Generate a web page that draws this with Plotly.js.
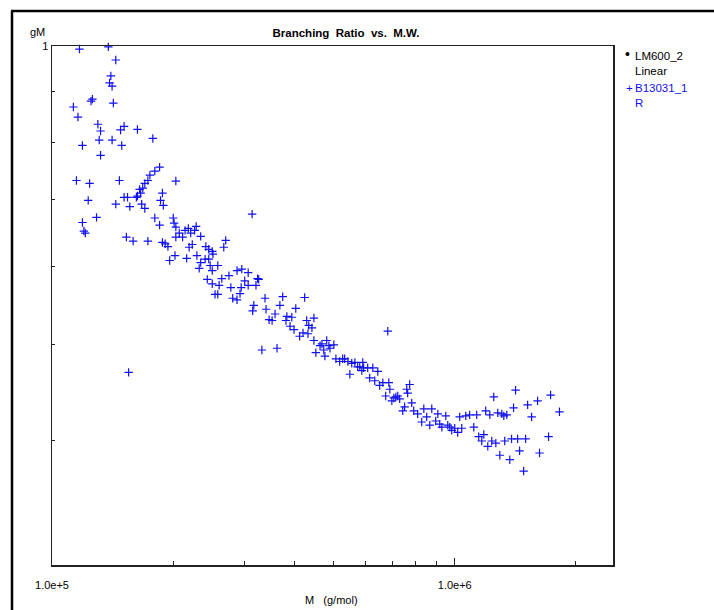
<!DOCTYPE html>
<html><head><meta charset="utf-8">
<script src="https://cdn.plot.ly/plotly-3.0.1.min.js"></script>
<style>html,body{margin:0;padding:0;background:#fff;}#chart{width:714px;height:610px;}</style>
</head><body><div id="chart"></div>
<script>
// Molar mass (g/mol) and branching ratio gM
const M = [
113000,115000,116000,117000,119000,119000,120000,121000,123000,124000,
125000,126000,129000,130000,131000,132000,132000,138000,139000,140000,
141000,141000,142000,144000,144000,147000,148000,149000,151000,151000,
153000,154000,155000,156000,159000,162000,163000,163000,165000,166000,
167000,168000,170000,170000,173000,173000,175000,178000,180000,180000,
185000,185000,186000,188000,188000,189000,191000,194000,196000,200000,
201000,202000,203000,203000,203000,207000,211000,214000,216000,218000,
219000,221000,223000,226000,228000,229000,232000,234000,234000,240000,
241000,243000,245000,245000,247000,250000,250000,250000,251000,254000,
258000,258000,260000,264000,267000,270000,275000,278000,281000,288000,
288000,293000,295000,296000,301000,307000,307000,314000,315000,317000,
321000,324000,326000,332000,338000,340000,346000,352000,358000,362000,
368000,374000,381000,383000,390000,394000,399000,403000,412000,420000,
424000,429000,432000,434000,442000,447000,447000,452000,463000,468000,
473000,476000,481000,487000,490000,501000,507000,518000,527000,533000,
543000,549000,555000,565000,574000,581000,588000,591000,594000,608000,
615000,626000,633000,644000,651000,663000,674000,682000,686000,690000,
698000,706000,714000,722000,730000,743000,751000,760000,764000,773000,
782000,791000,809000,828000,838000,852000,867000,877000,897000,908000,
918000,929000,950000,961000,972000,983000,1000000,1017000,1029000,1041000,
1065000,1089000,1115000,1134000,1147000,1167000,1181000,1194000,1208000,1222000,
1236000,1250000,1265000,1279000,1294000,1309000,1324000,1331000,1347000,1370000,
1384000,1400000,1416000,1433000,1449000,1483000,1500000,1517000,1552000,1606000,
1624000,1710000,1730000,1820000];
const gM = [
.868,.732,.848,.993,.794,.664,.651,.648,.699,.727,
.880,.884,.672,.834,.804,.776,.821,.998,.918,.933,
.911,.804,.876,.968,.693,.732,.823,.794,.830,.704,
.642,.704,.469,.689,.636,.704,.706,.824,.717,.711,
.693,.719,.727,.686,.732,.636,.741,.807,.748,.671,
.755,.660,.699,.711,.634,.691,.632,.628,.608,.671,
.663,.615,.731,.657,.642,.648,.642,.652,.611,.655,
.627,.648,.631,.652,.658,.615,.597,.643,.605,.610,
.628,.582,.624,.610,.601,.621,.594,.576,.617,.562,
.601,.562,.574,.583,.627,.637,.587,.571,.557,.594,
.555,.563,.571,.596,.580,.591,.574,.677,.541,.548,
.574,.583,.582,.494,.557,.543,.530,.529,.537,.496,
.548,.559,.529,.534,.522,.533,.518,.544,.510,.514,
.558,.529,.513,.523,.520,.532,.505,.491,.499,.501,
.494,.487,.505,.499,.496,.500,.484,.481,.484,.484,
.481,.467,.479,.480,.475,.475,.471,.480,.474,.474,
.463,.474,.460,.470,.455,.458,.444,.516,.458,.451,
.439,.442,.443,.444,.441,.429,.433,.451,.447,.456,
.437,.429,.426,.418,.431,.423,.415,.431,.419,.426,
.416,.413,.424,.415,.413,.410,.412,.408,.423,.412,
.424,.425,.413,.425,.404,.400,.406,.429,.395,.425,
.400,.443,.398,.427,.387,.426,.424,.400,.425,.383,
.402,.432,.450,.402,.391,.373,.402,.435,.423,.439,
.389,.404,.445,.428];
const xMajor = [1e5, 1e6];
const xMajorText = ['1.0e+5', '1.0e+6'];
const xMinor = [2e5,3e5,4e5,5e5,6e5,7e5,8e5,9e5,2e6];
const yMajor = [1];
const yMajorText = ['1'];
const yMinor = [0.4,0.5,0.6,0.7,0.8,0.9];
const seriesNames = ['LM600_2', 'B13031_1'];
const seriesSub = ['Linear', 'R'];

const F = '"Liberation Sans", Arial, sans-serif';
const blue = '#1010f0';
const L = 52, R = 613, T = 46, B = 565;
const pw = R - L, ph = B - T;
const px = v => (v - L) / pw;
const py = v => (B - v) / ph;

const data = [{
  type: 'scatter', mode: 'markers', x: M, y: gM, name: seriesNames[1],
  showlegend: false, cliponaxis: false,
  marker: {symbol: 'cross-thin-open', size: 6, color: blue, line: {color: blue, width: 1.2}}
}];

const layout = {
  width: 714, height: 610,
  margin: {l: L, r: 714 - R, t: T, b: 610 - B},
  paper_bgcolor: '#fff', plot_bgcolor: '#fff',
  showlegend: false,
  font: {family: F, size: 11, color: '#000'},
  title: {text: '<b>Branching\u00a0\u00a0Ratio\u00a0\u00a0vs.\u00a0\u00a0M.W.</b>', font: {family: F, size: 11.5, color: '#000'},
    xref: 'paper', x: px(346), xanchor: 'center', yref: 'container', y: 1 - 33/610, yanchor: 'middle'},
  xaxis: {
    type: 'log', range: [5, 6.393], showgrid: false, zeroline: false,
    showline: true, linecolor: '#222', linewidth: 1.5, mirror: true,
    tickmode: 'array', tickvals: xMajor, ticktext: xMajorText,
    ticks: 'inside', ticklen: 7, tickwidth: 1, tickcolor: '#222',
    tickfont: {family: F, size: 11, color: '#000'}, ticklabelstandoff: 9,
    minor: {tickmode: 'array', tickvals: xMinor, ticks: 'inside', ticklen: 4, tickwidth: 1, tickcolor: '#222', showgrid: false}
  },
  yaxis: {
    type: 'log', range: [Math.log10(0.3), 0], showgrid: false, zeroline: false,
    showline: true, linecolor: '#222', linewidth: 1.5, mirror: true,
    tickmode: 'array', tickvals: yMajor, ticktext: yMajorText,
    ticks: 'inside', ticklen: 3, tickwidth: 1, tickcolor: '#222',
    tickfont: {family: F, size: 11, color: '#000'},
    minor: {tickmode: 'array', tickvals: yMinor, ticks: 'inside', ticklen: 3, tickwidth: 1, tickcolor: '#222', showgrid: false}
  },
  annotations: [
    {text: 'gM', xref: 'paper', yref: 'paper', x: px(47), y: py(32), xanchor: 'right', yanchor: 'middle', showarrow: false, font: {family: F, size: 11}},
    {text: 'M\u00a0\u00a0\u00a0(g/mol)', xref: 'paper', yref: 'paper', x: px(331), y: py(600), xanchor: 'center', yanchor: 'middle', showarrow: false, font: {family: F, size: 11}},
    {text: '\u2022', xref: 'paper', yref: 'paper', x: px(627), y: py(54), xanchor: 'center', yanchor: 'middle', showarrow: false, font: {family: F, size: 14, color: '#000'}},
    {text: seriesNames[0] + '<br>' + seriesSub[0], align: 'left', xref: 'paper', yref: 'paper', x: px(633), y: py(48), xanchor: 'left', yanchor: 'top', showarrow: false, font: {family: F, size: 11.5, color: '#000'}},
    {text: '+', xref: 'paper', yref: 'paper', x: px(629), y: py(88), xanchor: 'center', yanchor: 'middle', showarrow: false, font: {family: F, size: 11.5, color: blue}},
    {text: seriesNames[1] + '<br>' + seriesSub[1], align: 'left', xref: 'paper', yref: 'paper', x: px(633), y: py(80), xanchor: 'left', yanchor: 'top', showarrow: false, font: {family: F, size: 11.5, color: blue}}
  ],
  shapes: [
    {type: 'line', xref: 'paper', yref: 'paper', x0: px(12), x1: px(12), y0: py(11), y1: py(640), line: {color: '#000', width: 2.5}},
    {type: 'line', xref: 'paper', yref: 'paper', x0: px(11), x1: px(740), y0: py(11), y1: py(11), line: {color: '#000', width: 2.5}}
  ]
};
Plotly.newPlot('chart', data, layout, {staticPlot: true, displayModeBar: false});
</script></body></html>
